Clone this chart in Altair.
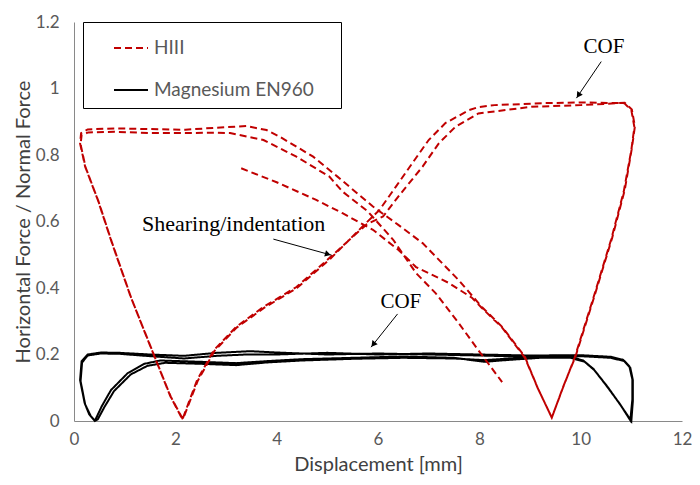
import math
import altair as alt
import pandas as pd

# ---------------- data ----------------
series_names = ["HIII", "Magnesium EN960"]
series_colors = ["#c00000", "#000000"]

hiii_x = [3.30, 4.00, 4.78, 5.30, 5.90, 6.40, 6.75, 7.40, 7.86, 8.05, 8.45, 8.90, 9.15, 9.43,
          9.65, 9.88, 10.25, 10.60, 10.85, 11.00, 11.06, 11.00, 10.86,
          10.00, 9.30, 8.30, 7.98, 7.80, 7.33, 7.00, 6.68, 6.35, 6.03, 5.76, 5.40, 5.04, 4.39, 3.74, 3.20, 2.76, 2.43, 2.14,
          1.90, 1.59, 1.12, 0.73, 0.47, 0.22, 0.12, 0.14, 0.27,
          0.80, 1.50, 2.20, 2.80, 3.40, 3.80, 4.06, 4.72, 5.20, 5.90, 6.40, 6.88, 7.59, 8.05, 8.45, 8.90, 9.15, 9.43,
          9.66, 9.90, 10.27, 10.62, 10.87, 11.01, 11.07, 11.01, 10.87,
          10.00, 9.03, 7.98, 7.53, 7.20, 6.88, 6.40, 6.10, 5.78, 5.42, 5.06, 4.40, 3.75, 3.21, 2.77, 2.44, 2.15,
          1.91, 1.60, 1.13, 0.74, 0.48, 0.23, 0.13, 0.15, 0.28,
          0.80, 1.50, 2.20, 2.80, 3.08, 3.74, 4.39, 5.04, 5.30, 5.80, 6.30, 6.75, 7.14, 7.59, 7.98, 8.45]
hiii_y = [0.760, 0.718, 0.665, 0.625, 0.575, 0.515, 0.463, 0.415, 0.370, 0.340, 0.281, 0.190, 0.100, 0.010,
          0.100, 0.190, 0.370, 0.545, 0.690, 0.815, 0.884, 0.935, 0.956,
          0.958, 0.956, 0.950, 0.944, 0.935, 0.896, 0.845, 0.776, 0.704, 0.635, 0.595, 0.540, 0.490, 0.403, 0.343, 0.283, 0.213, 0.123, 0.005,
          0.075, 0.193, 0.373, 0.544, 0.665, 0.765, 0.835, 0.866, 0.877,
          0.880, 0.878, 0.876, 0.882, 0.887, 0.875, 0.855, 0.795, 0.735, 0.645, 0.590, 0.535, 0.424, 0.343, 0.283, 0.193, 0.100, 0.010,
          0.105, 0.195, 0.375, 0.550, 0.695, 0.820, 0.886, 0.937, 0.957,
          0.950, 0.945, 0.925, 0.885, 0.835, 0.765, 0.675, 0.615, 0.592, 0.543, 0.488, 0.400, 0.340, 0.281, 0.210, 0.120, 0.005,
          0.073, 0.190, 0.370, 0.541, 0.662, 0.762, 0.832, 0.860, 0.868,
          0.870, 0.866, 0.866, 0.867, 0.866, 0.845, 0.795, 0.735, 0.690, 0.630, 0.545, 0.445, 0.384, 0.295, 0.213, 0.117]

mg_x = [0.41, 0.55, 0.73, 1.06, 1.39, 1.70, 2.50, 3.20, 3.80, 4.50, 5.50, 6.50, 7.50, 8.10, 8.60, 9.20, 9.80, 10.08, 10.27, 10.53, 10.80, 11.00,
        11.03, 11.03, 10.98, 10.86, 10.60, 10.00, 9.00, 8.00, 7.00, 6.00, 5.00, 4.00, 3.47, 2.82, 2.17, 1.50, 0.90, 0.53, 0.27, 0.15, 0.12, 0.21, 0.30, 0.41,
        0.47, 0.60, 0.79, 1.12, 1.45, 1.80, 2.50, 3.20, 3.80, 4.50, 5.50, 6.50, 7.50, 8.10, 8.60, 9.20, 9.80, 10.05, 10.25, 10.50, 10.78, 10.98,
        11.02, 11.02, 10.96, 10.84, 10.60, 10.00, 9.00, 8.00, 7.00, 6.00, 5.00, 4.00, 3.40, 2.82, 2.17, 1.50, 0.90, 0.53, 0.27, 0.16, 0.13, 0.22, 0.33, 0.42]
mg_y = [0.000, 0.045, 0.093, 0.144, 0.172, 0.182, 0.178, 0.174, 0.180, 0.186, 0.190, 0.194, 0.190, 0.178, 0.184, 0.190, 0.190, 0.178, 0.153, 0.103, 0.045, 0.000,
        0.060, 0.123, 0.160, 0.180, 0.190, 0.195, 0.193, 0.197, 0.200, 0.203, 0.200, 0.206, 0.210, 0.205, 0.196, 0.200, 0.205, 0.206, 0.200, 0.180, 0.123, 0.054, 0.020, 0.000,
        0.005, 0.042, 0.090, 0.140, 0.166, 0.175, 0.172, 0.168, 0.176, 0.182, 0.187, 0.190, 0.188, 0.183, 0.188, 0.193, 0.193, 0.182, 0.157, 0.108, 0.050, 0.002,
        0.065, 0.125, 0.165, 0.184, 0.193, 0.198, 0.197, 0.200, 0.203, 0.200, 0.205, 0.200, 0.200, 0.196, 0.188, 0.195, 0.202, 0.203, 0.197, 0.176, 0.120, 0.050, 0.015, 0.000]

x_ticks = [0, 2, 4, 6, 8, 10, 12]
y_ticks = [0, 0.2, 0.4, 0.6, 0.8, 1.0, 1.2]

ann_text = ["COF", "Shearing/indentation", "COF"]
ann_size = [21, 22, 21]
ann_x = [10.46, 3.15, 6.45]
ann_y = [1.107, 0.571, 0.340]
arrow_x1 = [10.406, 3.935, 6.386]
arrow_y1 = [1.081, 0.547, 0.322]
arrow_x2 = [9.916, 5.078, 5.863]
arrow_y2 = [0.971, 0.499, 0.222]

# ---------------- layout ----------------
W, H = 608, 399
XMAX, YMAX = 12, 1.2
px_x = W / XMAX
px_y = H / YMAX
NBSP = "\u00a0"

df_h = pd.DataFrame({"x": hiii_x, "y": hiii_y, "series": series_names[0], "i": range(len(hiii_x))})
df_m = pd.DataFrame({"x": mg_x, "y": mg_y, "series": series_names[1], "i": range(len(mg_x))})
df_t = pd.DataFrame({"x": ann_x, "y": ann_y, "label": ann_text, "fs": ann_size})
df_a = pd.DataFrame({"x": arrow_x1, "y": arrow_y1, "x2": arrow_x2, "y2": arrow_y2})

heads = []
for x1, y1, x2, y2 in zip(arrow_x1, arrow_y1, arrow_x2, arrow_y2):
    dx = (x2 - x1) * px_x
    dy = -(y2 - y1) * px_y
    L = math.hypot(dx, dy)
    back = 3.5 / L
    ang = math.degrees(math.atan2(dx, -dy)) % 360
    heads.append({"x": x2 - (x2 - x1) * back, "y": y2 - (y2 - y1) * back, "angle": ang})
df_hd = pd.DataFrame(heads)

SANS = "Lato"
xs = alt.Scale(domain=[0, XMAX], nice=False, zero=False, padding=0)
ys = alt.Scale(domain=[0, YMAX], nice=False, zero=False, padding=0)

x_axis = alt.Axis(values=x_ticks, grid=False, ticks=False, labelPadding=10, labelFlush=False,
                  labelFont=SANS, labelFontSize=17, labelColor="#595959", domainColor="#898989",
                  titleFont=SANS, titleFontSize=20, titleFontWeight="normal", titleColor="#404040",
                  titlePadding=7)
y_axis = alt.Axis(values=y_ticks, grid=False, ticks=False, labelPadding=15, labelFlush=False,
                  labelFont=SANS, labelFontSize=17, labelColor="#595959", domainColor="#898989",
                  format="~g",
                  titleFont=SANS, titleFontSize=20, titleFontWeight="normal", titleColor="#404040",
                  titlePadding=2)

X = alt.X("x:Q", scale=xs, axis=x_axis, title="Displacement [mm]")
Y = alt.Y("y:Q", scale=ys, axis=y_axis, title="Horizontal Force / Normal Force")

leg = alt.Legend(title=NBSP, titleOrient="right", titleFontSize=4, titlePadding=19,
                 orient="none", legendX=9, legendY=0, direction="vertical",
                 strokeColor="#000000", padding=8, symbolType="stroke", symbolSize=1156,
                 symbolStrokeWidth=2, symbolOffset=22, labelOffset=5, rowPadding=14,
                 labelFont=SANS, labelFontSize=19, labelColor="#595959", labelLimit=400)
color = alt.Color("series:N", scale=alt.Scale(domain=series_names, range=series_colors), legend=leg)
dash = alt.StrokeDash("series:N", scale=alt.Scale(domain=series_names, range=[[7, 4], [1, 0]]), legend=leg)

mg_line = alt.Chart(df_m).mark_line(strokeWidth=2).encode(x=X, y=Y, order="i:Q", color=color, strokeDash=dash)
h_line = alt.Chart(df_h).mark_line(strokeWidth=2).encode(x=X, y=Y, order="i:Q", color=color, strokeDash=dash)

texts = alt.Chart(df_t).mark_text(font="Liberation Serif", baseline="alphabetic",
                                  align="center", color="black").encode(
    x=X, y=Y, text="label:N", size=alt.Size("fs:Q", scale=None, legend=None))
arrows = alt.Chart(df_a).mark_rule(color="black", strokeWidth=1).encode(x=X, y=Y, x2="x2:Q", y2="y2:Q")
arrowheads = alt.Chart(df_hd).mark_point(shape="triangle-up", filled=True, size=45, color="black",
                                         opacity=1).encode(x=X, y=Y, angle=alt.Angle("angle:Q", scale=None))

chart = alt.layer(mg_line, h_line, arrows, arrowheads, texts).properties(
    width=W, height=H, autosize="none",
    padding={"left": 66, "top": 14, "right": 10, "bottom": 60},
    background="white",
).configure_view(strokeOpacity=0)

chart.save("out.html", embed_options={"renderer": "svg", "actions": False})
